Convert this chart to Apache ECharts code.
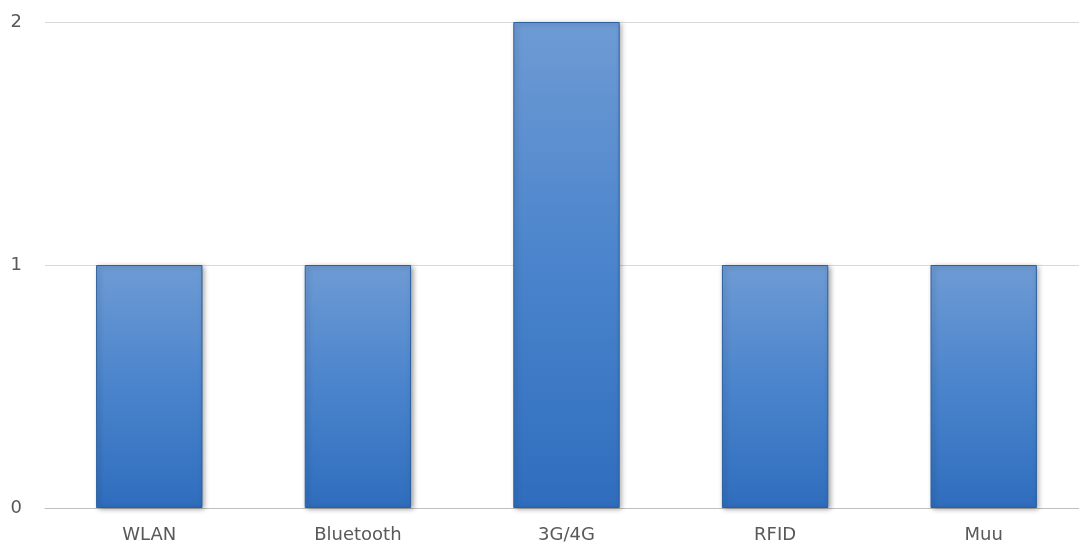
<!DOCTYPE html>
<html>
<head>
<meta charset="utf-8">
<script src="https://cdn.jsdelivr.net/npm/echarts@6/dist/echarts.min.js"></script>
<style>
  html, body { margin: 0; padding: 0; background: #ffffff; overflow: hidden; }
  #chart { width: 1090px; height: 547px; }
</style>
</head>
<body>
<div id="chart"></div>
<script>
// Connection types and how many devices use each
const categories = ['WLAN', 'Bluetooth', '3G/4G', 'RFID', 'Muu'];
const counts = [1, 1, 2, 1, 1];
const yTicks = [0, 1, 2];

const chart = echarts.init(document.getElementById('chart'));

const barFill = new echarts.graphic.LinearGradient(0, 0, 0, 1, [
  { offset: 0, color: '#6e9bd4' },
  { offset: 0.5, color: '#4a84cc' },
  { offset: 1, color: '#2f6dbd' }
]);

const labelFont = { color: '#595959', fontSize: 18, fontFamily: 'DejaVu Sans' };

chart.setOption({
  animation: false,
  backgroundColor: '#ffffff',
  grid: { left: 45, top: 22, bottom: 39, right: 2, containLabel: false },
  xAxis: {
    type: 'category',
    data: categories,
    axisLine: { lineStyle: { color: '#bfbfbf', width: 1 } },
    axisTick: { show: false },
    axisLabel: Object.assign({ margin: 18 }, labelFont)
  },
  yAxis: {
    type: 'value',
    min: yTicks[0],
    max: yTicks[yTicks.length - 1],
    interval: 1,
    axisLine: { show: false },
    axisTick: { show: false },
    axisLabel: Object.assign({ margin: 23 }, labelFont),
    splitLine: { lineStyle: { color: '#d9d9d9', width: 1 } }
  },
  series: [{
    type: 'bar',
    data: counts,
    barWidth: '51%',
    itemStyle: {
      color: barFill,
      borderColor: '#2a5f9e',
      borderWidth: 1,
      shadowColor: 'rgba(0,0,0,0.35)',
      shadowBlur: 5,
      shadowOffsetX: 2,
      shadowOffsetY: 1
    }
  }]
});
</script>
</body>
</html>
